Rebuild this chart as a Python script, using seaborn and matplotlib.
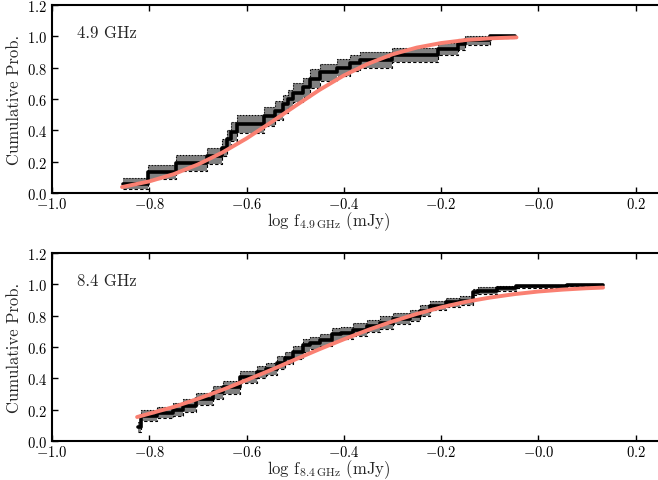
import matplotlib
matplotlib.use("Agg")
import matplotlib.pyplot as plt
import seaborn as sns
import numpy as np


# 4.9 GHz: empirical cumulative distribution (step positions and levels)
x49 = [-0.855, -0.802, -0.744, -0.682, -0.651, -0.641, -0.631, -0.620, -0.564,
       -0.542, -0.525, -0.515, -0.505, -0.484, -0.470, -0.449, -0.414, -0.388,
       -0.367, -0.301, -0.207, -0.166, -0.151, -0.100, -0.049]
y49 = [0.06, 0.136, 0.19, 0.234, 0.29, 0.345, 0.39, 0.44, 0.49,
       0.525, 0.568, 0.60, 0.64, 0.675, 0.73, 0.77, 0.80, 0.83,
       0.85, 0.88, 0.92, 0.95, 0.976, 1.0, 1.0]
err49 = [0.035, 0.045, 0.05, 0.05, 0.055, 0.06, 0.06, 0.06, 0.06,
         0.06, 0.06, 0.06, 0.06, 0.06, 0.06, 0.055, 0.055, 0.05,
         0.05, 0.045, 0.04, 0.035, 0.03, 0.01, 0.01]

# 4.9 GHz: fitted curve
fx49 = [-0.856, -0.80, -0.75, -0.70, -0.65, -0.60, -0.55, -0.50, -0.45,
        -0.40, -0.35, -0.30, -0.25, -0.20, -0.15, -0.10, -0.045]
fy49 = [0.038, 0.074, 0.12, 0.182, 0.258, 0.348, 0.45, 0.555, 0.658,
        0.75, 0.825, 0.885, 0.928, 0.957, 0.976, 0.987, 0.993]

# 8.4 GHz: empirical cumulative distribution
x84 = [-0.823, -0.818, -0.785, -0.751, -0.730, -0.703, -0.669, -0.648, -0.614,
       -0.579, -0.560, -0.538, -0.521, -0.504, -0.484, -0.470, -0.449, -0.425,
       -0.405, -0.381, -0.353, -0.326, -0.299, -0.264, -0.244, -0.223, -0.189,
       -0.162, -0.135, -0.125, -0.086, -0.045, 0.058, 0.133]
y84 = [0.09, 0.16, 0.18, 0.20, 0.225, 0.268, 0.31, 0.343, 0.407,
       0.44, 0.46, 0.50, 0.53, 0.565, 0.61, 0.625, 0.645, 0.68,
       0.69, 0.71, 0.735, 0.755, 0.78, 0.80, 0.83, 0.864, 0.885,
       0.896, 0.95, 0.96, 0.975, 0.987, 0.996, 0.996]
err84 = [0.03, 0.035, 0.035, 0.04, 0.04, 0.04, 0.04, 0.04, 0.04,
         0.04, 0.04, 0.04, 0.04, 0.04, 0.04, 0.04, 0.04, 0.04,
         0.04, 0.04, 0.04, 0.04, 0.035, 0.035, 0.035, 0.03, 0.03,
         0.03, 0.02, 0.02, 0.015, 0.01, 0.005, 0.005]

# 8.4 GHz: fitted curve
fx84 = [-0.825, -0.75, -0.70, -0.65, -0.60, -0.55, -0.50, -0.45, -0.40,
        -0.35, -0.30, -0.25, -0.20, -0.15, -0.10, -0.05, 0.00, 0.05, 0.10, 0.133]
fy84 = [0.153, 0.217, 0.269, 0.326, 0.389, 0.453, 0.52, 0.586, 0.649,
        0.709, 0.763, 0.811, 0.853, 0.888, 0.915, 0.937, 0.954, 0.966, 0.975, 0.979]

panels = [
    (x49, y49, err49, fx49, fy49, "4.9 GHz", r"log f$_{\rm 4.9\,GHz}$ (mJy)"),
    (x84, y84, err84, fx84, fy84, "8.4 GHz", r"log f$_{\rm 8.4\,GHz}$ (mJy)"),
]

sns.set_style("ticks")
plt.rcParams.update({
    "font.family": "serif",
    "font.serif": ["cmr10", "DejaVu Serif"],
    "mathtext.fontset": "cm",
    "axes.formatter.use_mathtext": True,
    "axes.unicode_minus": True,
    "axes.linewidth": 1.5,
    "axes.edgecolor": "black",
    "xtick.direction": "in",
    "ytick.direction": "in",
    "xtick.top": True,
    "xtick.major.size": 4,
    "ytick.major.size": 4,
    "xtick.major.width": 1,
    "ytick.major.width": 1,
    "xtick.color": "black",
    "ytick.color": "black",
    "xtick.labelsize": 10.5,
    "ytick.labelsize": 10.5,
})


def fmt(v, pos):
    return r"$\mathdefault{%s}$" % ("%.1f" % v).replace("-", "\u2212")


fig = plt.figure(figsize=(6.58, 4.81), dpi=100)
ax1 = fig.add_axes([0.079, 0.5967, 0.924, 0.3909])
ax2 = fig.add_axes([0.079, 0.0811, 0.924, 0.3909])

for ax, (sx, sy, se, fx, fy, name, xlab) in zip([ax1, ax2], panels):
    sy = np.array(sy)
    se = np.array(se)
    hi = np.minimum(sy + se, 1.0)
    lo = sy - se
    ax.fill_between(sx, lo, hi, step="post", color="#808080", lw=0, zorder=1)
    ax.step(sx, hi, where="post", color="black", lw=0.8, ls=":", zorder=2)
    ax.step(sx, lo, where="post", color="black", lw=0.8, ls="--", dashes=(3, 2), zorder=2)
    sns.lineplot(x=sx, y=sy, drawstyle="steps-post", estimator=None, sort=False,
                 color="black", lw=2.6, ax=ax, zorder=3)
    sns.lineplot(x=fx, y=fy, estimator=None, sort=False, color="#fa8072",
                 lw=2.8, ax=ax, zorder=4)

    ax.set_xlim(-1.0, 0.25)
    ax.set_ylim(0, 1.2)
    ax.set_xticks(np.round(np.arange(-1.0, 0.21, 0.2), 1))
    ax.set_yticks(np.round(np.arange(0, 1.21, 0.2), 1))
    ax.xaxis.set_major_formatter(matplotlib.ticker.FuncFormatter(fmt))
    ax.yaxis.set_major_formatter(matplotlib.ticker.FuncFormatter(fmt))
    ax.tick_params(axis="x", pad=2)
    ax.spines["right"].set_visible(False)
    ax.tick_params(axis="y", right=False)
    ax.text(0.041, 0.856, name, transform=ax.transAxes, fontsize=12,
            ha="left", va="center")
    ax.set_xlabel(xlab, fontsize=12)
    ax.xaxis.set_label_coords(0.456, -0.085)
    ax.set_ylabel("Cumulative Prob.", fontsize=12)
    ax.yaxis.set_label_coords(-0.05, 0.5)

fig.savefig("out.png", dpi=100)
